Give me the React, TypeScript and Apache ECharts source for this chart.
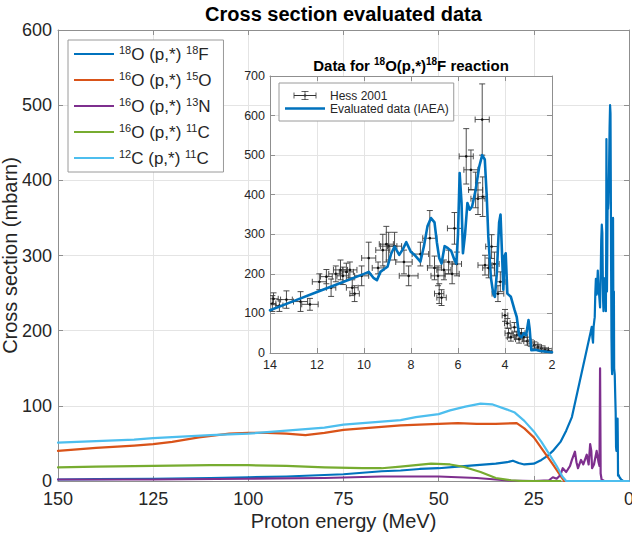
import React, { useEffect, useRef } from "react";
import * as echarts from "echarts";

// ---------- Main chart data (energy MeV, cross section mbarn) ----------
const o18HighE = [150, 140, 125, 110, 100, 90, 80, 75, 70, 65, 60, 55, 50, 45, 40, 35, 32, 30.5, 29, 27.5, 25, 23, 21.5, 20, 18, 16.5, 15];
const o18HighXs = [2, 2.5, 3, 4, 5, 6, 8, 9, 11, 13, 14, 16, 17, 19, 21, 23, 25, 27, 24, 22, 23, 28, 33, 40, 52, 67, 85];
const o18LowE = [1.5, 0];
const o18LowXs = [0, 0];

const o15E = [150, 140, 130, 125, 120, 113, 105, 100, 95, 90, 85, 80, 75, 70, 65, 60, 55, 50, 45, 40, 35, 29.5, 27.5, 25, 22.5, 20, 18, 17, 0];
const o15Xs = [40, 44, 47, 49, 52, 58, 63, 64, 64, 63, 61, 64, 68, 70, 72, 74, 75, 76, 77, 76, 76, 77, 70, 58, 40, 22, 7, 0, 0];

const n13E = [150, 125, 100, 80, 65, 50, 45, 40, 35, 31, 25, 21, 20, 19, 18, 17.4, 16.5, 15.5, 15, 14.2, 13.8, 13.4, 12.6, 12, 11.1, 10.6, 10.2, 9.9, 9.7, 9.2, 8.5, 8.0, 7.75, 7.6, 7.45, 7.2, 6.5, 0];
const n13Xs = [2, 2, 3, 4, 6, 6, 5, 4, 2, 0.5, 0, 1, 5, 3, 8, 17, 12, 20, 28, 39, 25, 17, 28, 22, 35, 22, 49, 40, 17, 22, 40, 25, 20, 150, 10, 2, 0, 0];

const c11oE = [150, 140, 125, 110, 100, 90, 80, 70, 65, 60, 52, 47, 43.5, 39, 35, 31, 28, 18];
const c11oXs = [18, 19, 20, 21, 21, 20, 18, 17, 17, 19, 23, 22, 19, 12, 4, 1, 0, 0];

const c11E = [150, 140, 130, 125, 110, 100, 90, 80, 75, 65, 60, 56, 50, 47, 43, 39, 36, 32, 30, 27.5, 25, 23, 21, 19, 17.5, 16.5, 0];
const c11Xs = [51, 53, 55, 57, 61, 63, 67, 71, 75, 79, 81, 85, 89, 94, 99, 103, 102, 95, 91, 80, 66, 52, 36, 20, 6, 0, 0];

// ---------- Inset data ----------
const iaeaE = [14, 13, 12, 11, 10, 9.8, 9.6, 9.45, 9.3, 9.1, 9.0, 8.85, 8.7, 8.5, 8.35, 8.2, 8.0, 7.85, 7.6, 7.45, 7.3, 7.15, 7.0, 6.9, 6.8, 6.7, 6.57, 6.43, 6.29, 6.15, 6.07, 6.0, 5.93, 5.85, 5.79, 5.7, 5.6, 5.5, 5.4, 5.25, 5.1, 4.97, 4.86, 4.78, 4.71, 4.6, 4.5, 4.43, 4.35, 4.25, 4.19, 4.12, 4.07, 4.02, 3.97, 3.9, 3.75, 3.6, 3.5, 3.4, 3.3, 3.2, 3.1, 3.0, 2.95, 2.88, 2.7, 2.5, 2.2, 2.0];
const iaeaXs = [108, 131, 154, 177, 200, 205, 190, 184, 205, 214, 218, 250, 269, 248, 262, 280, 255, 248, 231, 270, 320, 341, 330, 280, 240, 226, 270, 265, 258, 235, 226, 300, 455, 380, 252, 300, 379, 362, 370, 412, 470, 500, 489, 400, 294, 190, 150, 142, 200, 330, 350, 240, 160, 245, 252, 150, 142, 110, 91, 45, 40, 50, 45, 83, 60, 7, 8, 5, 3, 2];

const hessE = [13.9, 13.85, 13.6, 13.3, 12.7, 12.3, 11.9, 11.6, 11.4, 11.2, 11.0, 10.9, 10.75, 10.6, 10.5, 10.4, 10.1, 9.8, 9.4, 9.2, 9.05, 8.95, 8.7, 8.3, 8.1, 7.6, 7.2, 7.0, 6.85, 6.8, 6.7, 6.6, 6.4, 6.25, 6.15, 6.05, 5.65, 5.45, 5.25, 5.15, 4.97, 4.95, 4.85, 4.7, 4.57, 4.45, 4.3, 4.2, 4.0, 3.9, 3.85, 3.75, 3.6, 3.5, 3.4, 3.3, 3.2, 3.05, 2.9, 2.75, 2.6, 2.45, 2.3, 2.15];
const hessXs = [125, 137, 120, 135, 130, 123, 180, 193, 165, 200, 210, 195, 205, 210, 165, 150, 195, 240, 215, 260, 275, 270, 270, 230, 195, 250, 290, 215, 195, 150, 140, 210, 230, 200, 315, 225, 497, 463, 412, 390, 590, 395, 222, 215, 269, 225, 150, 180, 95, 75, 50, 40, 65, 45, 35, 50, 40, 30, 25, 20, 15, 12, 8, 6];
const hessEErr = [0.15, 0.2, 0.15, 0.25, 0.3, 0.35, 0.3, 0.25, 0.2, 0.3, 0.3, 0.25, 0.3, 0.3, 0.25, 0.2, 0.3, 0.3, 0.25, 0.3, 0.3, 0.35, 0.3, 0.35, 0.4, 0.35, 0.3, 0.3, 0.3, 0.2, 0.2, 0.3, 0.3, 0.3, 0.3, 0.2, 0.3, 0.3, 0.3, 0.3, 0.3, 0.2, 0.3, 0.25, 0.25, 0.2, 0.25, 0.2, 0.12, 0.12, 0.15, 0.15, 0.15, 0.15, 0.15, 0.15, 0.15, 0.15, 0.15, 0.15, 0.15, 0.15, 0.15, 0.15];
const hessXsErr = [20, 15, 15, 22, 25, 15, 20, 18, 22, 20, 25, 22, 22, 20, 20, 20, 25, 40, 15, 40, 45, 35, 35, 30, 25, 30, 70, 30, 25, 25, 20, 25, 30, 25, 40, 30, 70, 50, 45, 40, 90, 50, 25, 25, 30, 30, 20, 25, 15, 12, 12, 10, 12, 10, 10, 12, 10, 10, 8, 8, 7, 6, 5, 5];

// ---------- Labels ----------
const mainTitle = "Cross section evaluated data";
const insetTitle = "Data for {s|18}O(p,*){s|18}F reaction";
const xName = "Proton energy (MeV)";
const yName = "Cross section (mbarn)";
const seriesNames = ["18F", "15O", "13N", "11C-O", "11C-C"];
const legendLabels: Record<string, string> = {
  "18F": "{s|18}O (p,*) {s|18}F",
  "15O": "{s|16}O (p,*) {s|15}O",
  "13N": "{s|16}O (p,*) {s|13}N",
  "11C-O": "{s|16}O (p,*) {s|11}C",
  "11C-C": "{s|12}C (p,*) {s|11}C",
};
const hessName = "Hess 2001";
const iaeaName = "Evaluated data (IAEA)";

const colors = ["#0072BD", "#D95319", "#7E2F8E", "#77AC30", "#4DBEEE"];
const FONT = "'Liberation Sans', Arial, Helvetica, sans-serif";
const TXT = "#262626";
const AXC = "#8f8f8f";
const GRIDC = "#e4e4e4";

const zip = (a: number[], b: number[]) => a.map((v, i) => [v, b[i]]);

const errIcon =
  "path://M0,0H0.01V0.01H0Z M39.99,9.99H40V10H39.99Z " +
  "M9,4.6H31V5.4H9Z M8.6,2H9.4V8H8.6Z M30.6,2H31.4V8H30.6Z " +
  "M19.6,0.5H20.4V9.5H19.6Z M16.5,0.5H23.5V1.3H16.5Z M16.5,8.7H23.5V9.5H16.5Z M18.9,3.9H21.1V6.1H18.9Z";
const lineIconMain = "path://M0,0H0.01V0.01H0Z M39.99,11.99H40V12H39.99Z M0,4.9H40V7.1H0Z";
const lineIconInset = "path://M0,0H0.01V0.01H0Z M39.99,9.99H40V10H39.99Z M0,3.7H40V6.3H0Z";

function axisStyle(fs: number, margin: number, labels: boolean, split: boolean) {
  return {
    axisLine: { show: true, onZero: false, lineStyle: { color: AXC, width: 1 } },
    axisTick: { show: true, inside: true, length: 5, lineStyle: { color: AXC, width: 1 } },
    axisLabel: { show: labels, fontSize: fs, color: TXT, margin, fontFamily: FONT },
    splitLine: { show: split, lineStyle: { color: GRIDC, width: 1 } },
  };
}

export default function App() {
  const ref = useRef<HTMLDivElement>(null);
  useEffect(() => {
    if (!ref.current) return;
    const chart = echarts.init(ref.current, null, { renderer: "svg" });

    const mainBlue = [...zip(o18HighE, o18HighXs), ...zip(iaeaE, iaeaXs), ...zip(o18LowE, o18LowXs)];
    const mainData = [
      mainBlue,
      zip(o15E, o15Xs),
      zip(n13E, n13Xs),
      zip(c11oE, c11oXs),
      zip(c11E, c11Xs),
    ];
    const hessData = hessE.map((e, i) => [e, hessXs[i], hessEErr[i], hessXsErr[i]]);

    const mainSeries = seriesNames.map((name, i) => ({
      type: "line",
      name,
      data: mainData[i],
      xAxisIndex: 0,
      yAxisIndex: 0,
      symbol: "none",
      showSymbol: false,
      z: 2,
      lineStyle: { color: colors[i], width: 2.2, join: "round", cap: "round" },
      itemStyle: { color: colors[i] },
      emphasis: { disabled: true },
    }));

    const option: any = {
      animation: false,
      backgroundColor: "#ffffff",
      textStyle: { fontFamily: FONT },
      title: [
        {
          text: mainTitle,
          left: 343.5,
          top: 4,
          textAlign: "center",
          padding: 0,
          textStyle: { fontSize: 20, fontWeight: "bold", color: "#000", fontFamily: FONT },
        },
        {
          text: insetTitle,
          left: 411,
          top: 56,
          textAlign: "center",
          padding: 0,
          textStyle: {
            fontSize: 15,
            fontWeight: "bold",
            color: "#000",
            lineHeight: 18,
            fontFamily: FONT,
            rich: { s: { fontSize: 10, fontWeight: "bold", lineHeight: 10, verticalAlign: "top", color: "#000", fontFamily: FONT } },
          },
        },
      ],
      legend: [
        {
          orient: "vertical",
          left: 68,
          top: 40,
          padding: [4, 12, 4, 6],
          itemWidth: 40,
          itemHeight: 12,
          itemGap: 6,
          backgroundColor: "#fff",
          borderColor: "#9a9a9a",
          borderWidth: 1,
          z: 6,
          icon: lineIconMain,
          itemStyle: { borderWidth: 0 },
          data: seriesNames,
          formatter: (n: string) => legendLabels[n],
          selectedMode: false,
          textStyle: {
            fontSize: 17,
            color: TXT,
            lineHeight: 20,
            fontFamily: FONT,
            rich: { s: { fontSize: 11, lineHeight: 12, verticalAlign: "top", color: TXT, fontFamily: FONT } },
          },
        },
        {
          orient: "vertical",
          left: 279,
          top: 83,
          padding: [6, 5, 6, 6],
          itemWidth: 40,
          itemHeight: 10,
          itemGap: 0,
          backgroundColor: "#fff",
          borderColor: "#9a9a9a",
          borderWidth: 1,
          z: 7,
          selectedMode: false,
          itemStyle: { borderWidth: 0 },
          data: [
            { name: hessName, icon: errIcon, itemStyle: { color: "#333", borderWidth: 0 } },
            { name: iaeaName, icon: lineIconInset, itemStyle: { color: colors[0], borderWidth: 0 } },
          ],
          textStyle: { fontSize: 12, color: TXT, lineHeight: 13, fontFamily: FONT },
        },
      ],
      grid: [
        { left: 58, right: 3, top: 30, bottom: 58, show: false, containLabel: false, outerBoundsMode: "none" },
        { left: 270, top: 76, width: 282, height: 277, show: true, backgroundColor: "#fff", borderWidth: 0, z: 3, containLabel: false, outerBoundsMode: "none" },
      ],
      xAxis: [
        {
          type: "value", gridIndex: 0, min: 0, max: 150, interval: 25, inverse: true, position: "bottom",
          name: xName, nameLocation: "middle", nameGap: 30, nameMoveOverlap: false,
          nameTextStyle: { fontSize: 20, color: TXT, fontFamily: FONT },
          ...axisStyle(18, 9, true, true),
        },
        { type: "value", gridIndex: 0, min: 0, max: 150, interval: 25, inverse: true, position: "top", ...axisStyle(18, 6, false, false) },
        { type: "value", gridIndex: 1, min: 2, max: 14, interval: 2, inverse: true, position: "bottom", z: 4, ...axisStyle(12.5, 5, true, true) },
        { type: "value", gridIndex: 1, min: 2, max: 14, interval: 2, inverse: true, position: "top", z: 4, ...axisStyle(12.5, 5, false, false) },
      ],
      yAxis: [
        {
          type: "value", gridIndex: 0, min: 0, max: 600, interval: 100, position: "left",
          name: yName, nameLocation: "middle", nameGap: 38, nameMoveOverlap: false,
          nameTextStyle: { fontSize: 20, color: TXT, fontFamily: FONT },
          ...axisStyle(18, 6, true, true),
        },
        { type: "value", gridIndex: 0, min: 0, max: 600, interval: 100, position: "right", ...axisStyle(18, 6, false, false) },
        { type: "value", gridIndex: 1, min: 0, max: 700, interval: 100, position: "left", z: 4, ...axisStyle(12.5, 5, true, true) },
        { type: "value", gridIndex: 1, min: 0, max: 700, interval: 100, position: "right", z: 4, ...axisStyle(12.5, 5, false, false) },
      ],
      series: [
        ...mainSeries,
        {
          type: "custom",
          name: hessName,
          xAxisIndex: 2,
          yAxisIndex: 2,
          z: 5,
          clip: true,
          encode: { x: 0, y: 1 },
          data: hessData,
          itemStyle: { color: "#333" },
          renderItem: (_p: any, api: any) => {
            const e = api.value(0);
            const v = api.value(1);
            const de = api.value(2);
            const dv = api.value(3);
            const c = api.coord([e, v]);
            const xl = api.coord([e + de, v]);
            const xr = api.coord([e - de, v]);
            const yt = api.coord([e, v + dv]);
            const yb = api.coord([e, v - dv]);
            const cap = 3;
            const style = { stroke: "#3a3a3a", lineWidth: 0.9, fill: null };
            const ln = (x1: number, y1: number, x2: number, y2: number) => ({
              type: "line",
              shape: { x1, y1, x2, y2 },
              style,
            });
            return {
              type: "group",
              children: [
                ln(xl[0], c[1], xr[0], c[1]),
                ln(xl[0], c[1] - cap, xl[0], c[1] + cap),
                ln(xr[0], c[1] - cap, xr[0], c[1] + cap),
                ln(c[0], yt[1], c[0], yb[1]),
                ln(c[0] - cap, yt[1], c[0] + cap, yt[1]),
                ln(c[0] - cap, yb[1], c[0] + cap, yb[1]),
                { type: "circle", shape: { cx: c[0], cy: c[1], r: 1.3 }, style: { fill: "#111" } },
              ],
            };
          },
        },
        {
          type: "line",
          name: iaeaName,
          data: zip(iaeaE, iaeaXs),
          xAxisIndex: 2,
          yAxisIndex: 2,
          symbol: "none",
          showSymbol: false,
          z: 6,
          lineStyle: { color: colors[0], width: 2.6, join: "round", cap: "round" },
          itemStyle: { color: colors[0] },
          emphasis: { disabled: true },
        },
      ],
    };

    chart.setOption(option);
    return () => chart.dispose();
  }, []);

  return <div ref={ref} style={{ position: "fixed", left: 0, top: 0, width: 632, height: 539 }} />;
}
